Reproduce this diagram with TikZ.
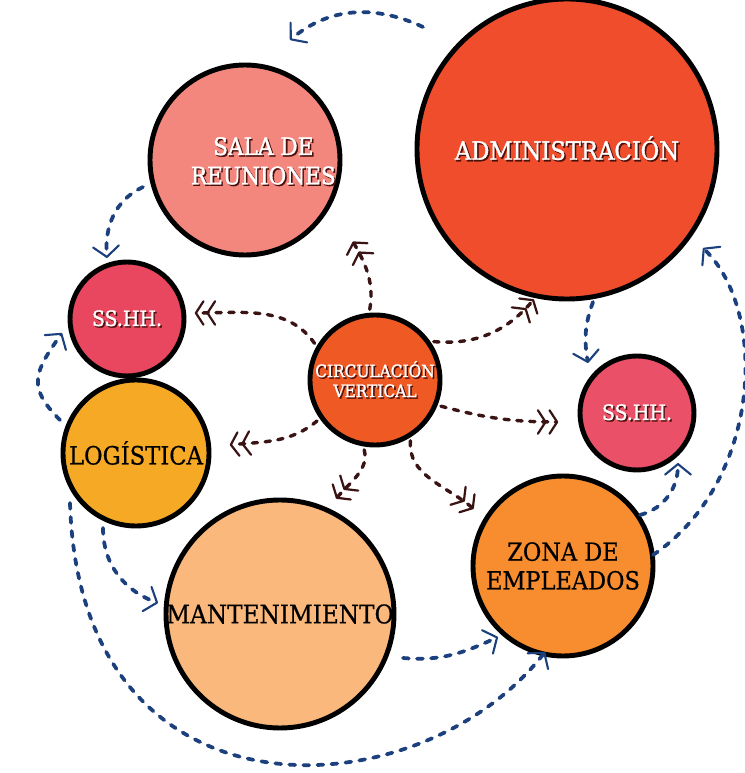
\documentclass[tikz,border=0pt]{standalone}
\usepackage{fontspec}
\setmainfont{DejaVu Serif Condensed}
\newfontfamily\heavyserif{DejaVu Serif Condensed}[FakeBold=1.4]
\newfontfamily\midserif{DejaVu Serif Condensed}[FakeBold=0.6]
\usetikzlibrary{arrows.meta}

\definecolor{brn}{HTML}{3A1414}
\definecolor{nvy}{HTML}{1C3F7E}
\definecolor{txtshadow}{HTML}{4A100C}
\definecolor{glowin}{HTML}{FFFFFF}
\definecolor{glowout}{HTML}{000000}

% flat centre, darker rim
\pgfdeclareradialshading[glowin,glowout]{glow}{\pgfpointorigin}%
  {color(0bp)=(glowin); color(28bp)=(glowin); color(50bp)=(glowout)}

% white lettering with a dark drop shadow
\newcommand\shadowed[1]{\makebox[0pt][l]{\hspace{1.3pt}\raisebox{-1.3pt}{\textcolor{txtshadow}{#1}}}#1}

\tikzset{
  room/.style={circle, draw=black, line width=4.2pt, inner sep=0pt,
    minimum size=#1*0.06cm},
  tint/.style 2 args={/utils/exec={\definecolor{glowin}{HTML}{#1}\definecolor{glowout}{HTML}{#2}},
    shade, shading=glow},
  wfsz/.style 2 args={font=\heavyserif\fontsize{#1}{#2}\selectfont},
  kfsz/.style 2 args={font=\midserif\fontsize{#1}{#2}\selectfont},
  wtxt/.style={text=white, align=center},
  ktxt/.style={text=black, align=center},
  chev/.tip={Straight Barb[length=6.5pt,width=20pt,line width=1.9pt,round,sep=1.5pt]},
  vtip/.tip={Straight Barb[length=9pt,width=22pt,line width=1.8pt,round]},
  brnarr/.style={draw=brn, line width=2.9pt, line cap=round,
    dash pattern=on 4.5pt off 6.5pt, shorten <=3pt, -{chev[]chev[]}},
  nvyarr/.style={draw=nvy, line width=3.2pt, line cap=round,
    dash pattern=on 5pt off 7pt, -{vtip[]}},
}

\begin{document}
\begin{tikzpicture}[x=0.03cm, y=0.03cm]
\useasboundingbox (0,0) rectangle (744,773);

% rooms
\node[room=95, tint={F3877E}{E9615E},
  label={[wtxt, wfsz={20.5pt}{25pt}, xshift=0.55cm, yshift=-0.05cm]center:{\shadowed{SALA DE}\\\shadowed{REUNIONES}}}]
  (sala) at (245,613) {};
\node[room=150, tint={EF4D2C}{E8411F}, wtxt, wfsz={21.5pt}{26pt}] (admin) at (567,624) {\shadowed{ADMINISTRACIÓN}};
\node[room=57, tint={E8475F}{D9314B}, wtxt, wfsz={18pt}{22pt}] (ssl) at (127,454) {\shadowed{SS.HH.}};
\node[room=65, tint={EF5A24}{E64A1B}, wtxt, wfsz={14.6pt}{17pt}] (circ) at (375,393)
  {\shadowed{CIRCULACIÓN}\\\shadowed{VERTICAL}};
\node[room=57, tint={EA5068}{DC3452}, wtxt, wfsz={18pt}{22pt}] (ssr) at (637,360) {\shadowed{SS.HH.}};
\node[room=73, tint={F6A925}{F09419}, ktxt, kfsz={21.5pt}{26pt}] (logi) at (136,320) {LOGÍSTICA};
\node[room=114, tint={FAB87C}{F49A50}, ktxt, kfsz={22pt}{26pt}] (mant) at (280,159) {MANTENIMIENTO};
\node[room=90, tint={F78D2E}{F07A1C}, ktxt, kfsz={21.3pt}{24.5pt}] (zona) at (563,207) {ZONA DE\\EMPLEADOS};

% free ends of the connectors
\coordinate (b1) at (352,533);
\coordinate (b2) at (193,460);
\coordinate (b3) at (535,475);
\coordinate (b4) at (560,351);
\coordinate (b5) at (228,328);
\coordinate (b6) at (335,273);
\coordinate (b7) at (475,263);

\coordinate (l1s) at (423,746); \coordinate (l1e) at (290,733);
\coordinate (l2s) at (143,586); \coordinate (l2e) at (107,515);
\coordinate (l3s) at (60,353);  \coordinate (l3e) at (62,440);
\coordinate (l4s) at (103,245); \coordinate (l4e) at (158,170);
\coordinate (l5s) at (70,270);  \coordinate (l5e) at (545,121);
\coordinate (l6s) at (403,115); \coordinate (l6e) at (498,136);
\coordinate (l7s) at (593,471); \coordinate (l7e) at (588,410);
\coordinate (l8s) at (640,258); \coordinate (l8e) at (678,310);
\coordinate (l9s) at (653,218); \coordinate (l9e) at (703,525);

% circulation links
\draw[brnarr] (circ.95)   to[out=80,  in=-60] (b1);
\draw[brnarr] (circ.150)  to[out=125, in=0]   (b2);
\draw[brnarr] (circ.35)   to[out=-5,  in=230] (b3);
\draw[brnarr] (circ.-22)  to[out=-15, in=180] (b4);
\draw[brnarr] (circ.-145) to[out=-140,in=5]   (b5);
\draw[brnarr] (circ.-100) to[out=-75, in=50]  (b6);
\draw[brnarr] (circ.-58)  to[out=-95, in=140] (b7);

% flows between rooms
\draw[nvyarr] (l1s) to[out=155, in=40] (l1e);
\draw[nvyarr] (l2s) to[out=205, in=95] (l2e);
\draw[nvyarr] (l3s) to[out=135, in=235, looseness=1.4] (l3e);
\draw[nvyarr] (l4s) to[out=-90, in=160] (l4e);
\draw[nvyarr] (l5s) .. controls (80,-60) and (420,-40) .. (l5e);
\draw[nvyarr] (l6s) to[out=-5, in=205] (l6e);
\draw[nvyarr] (l7s) to[out=250, in=100] (l7e);
\draw[nvyarr] (l8s) to[out=15, in=-90] (l8e);
\draw[nvyarr] (l9s) .. controls (760,290) and (770,460) .. (l9e);
\end{tikzpicture}
\end{document}
